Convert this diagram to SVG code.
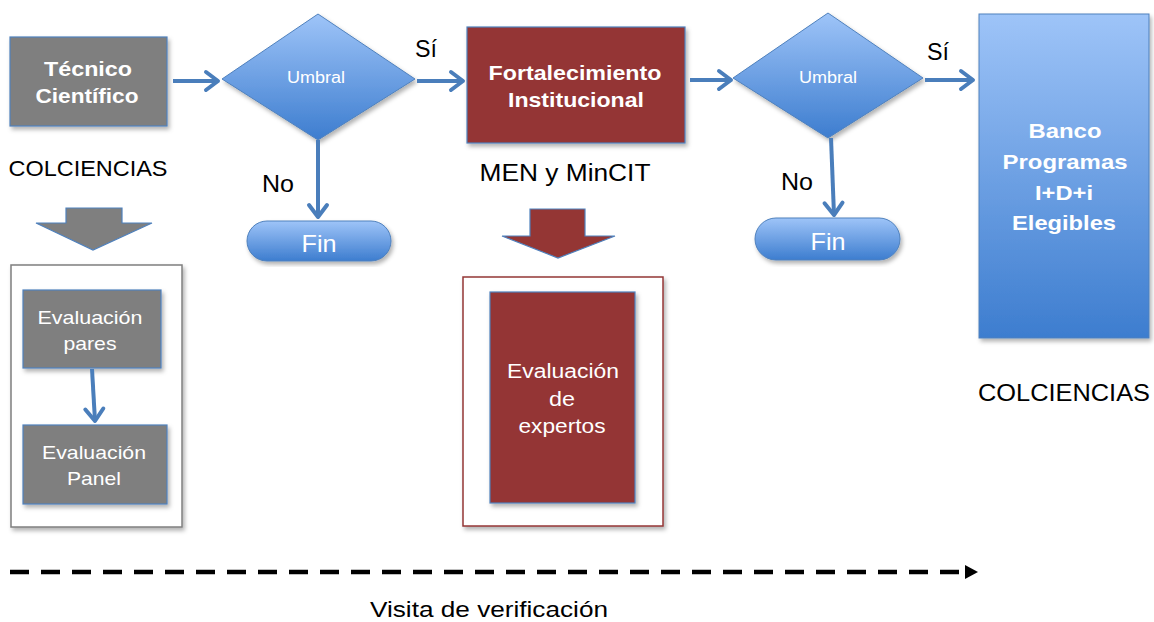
<svg xmlns="http://www.w3.org/2000/svg" width="1154" height="622" viewBox="0 0 1154 622">
<defs>
<style>
text{font-family:"Liberation Sans",Arial,sans-serif;text-anchor:middle}
.w{fill:#ffffff}
.b{font-weight:bold}
.k{fill:#000000}
.gray{fill:#7f7f7f;stroke:#4f81bd;stroke-width:1.2}
.red{fill:#943634;stroke:#4f81bd;stroke-width:1.2}
.blue{fill:url(#bg);stroke:#4f81bd;stroke-width:1}
.conn{stroke:#4a7ebb;stroke-width:4;fill:none;marker-end:url(#ah)}
</style>
<linearGradient id="bg" x1="0" y1="0" x2="0" y2="1">
<stop offset="0" stop-color="#9ec4f8"/>
<stop offset="1" stop-color="#3d7dcf"/>
</linearGradient>
<marker id="ah" viewBox="-16 -12 20 24" refX="0" refY="0" markerWidth="20" markerHeight="24" markerUnits="userSpaceOnUse" orient="auto">
<path d="M-12,-9 L0,0 L-12,9" fill="none" stroke="#4a7ebb" stroke-width="4" stroke-linecap="round" stroke-linejoin="round"/>
</marker>
<filter id="sh" x="-10%" y="-10%" width="125%" height="125%">
<feDropShadow dx="2" dy="3" stdDeviation="2" flood-color="#000" flood-opacity="0.3"/>
</filter>
</defs>
<rect width="1154" height="622" fill="#ffffff"/>

<g id="tecnico">
<rect class="gray" x="10" y="37" width="157" height="89" filter="url(#sh)"/>
<text class="w b" x="88" y="76" font-size="21" textLength="88" lengthAdjust="spacingAndGlyphs">Técnico</text>
<text class="w b" x="87" y="103" font-size="21" textLength="103" lengthAdjust="spacingAndGlyphs">Científico</text>
</g>
<g id="colciencias1"><text class="k" x="88" y="176" font-size="22" textLength="159" lengthAdjust="spacingAndGlyphs">COLCIENCIAS</text></g>
<g id="grayArrow">
<polygon class="gray" points="66,208 122,208 122,223 152,223 93,250 36,223 66,223"/>
</g>
<g id="grayContainer">
<rect x="11" y="265" width="171" height="262" fill="#fff" stroke="#7f7f7f" stroke-width="1.5" filter="url(#sh)"/>
</g>
<g id="evalPares">
<rect class="gray" x="23" y="290" width="138" height="78" filter="url(#sh)"/>
<text class="w" x="90" y="324" font-size="19" textLength="105" lengthAdjust="spacingAndGlyphs">Evaluación</text>
<text class="w" x="90" y="350" font-size="19" textLength="53" lengthAdjust="spacingAndGlyphs">pares</text>
</g>
<g id="evalPanel">
<rect class="gray" x="23" y="425" width="144" height="79" filter="url(#sh)"/>
<text class="w" x="94" y="459" font-size="19" textLength="104" lengthAdjust="spacingAndGlyphs">Evaluación</text>
<text class="w" x="94" y="485" font-size="19" textLength="54" lengthAdjust="spacingAndGlyphs">Panel</text>
</g>

<g id="umbral1">
<polygon class="blue" points="318,14 415,79 318,140 222,79" filter="url(#sh)"/>
<text class="w" x="316" y="83" font-size="16" textLength="58" lengthAdjust="spacingAndGlyphs">Umbral</text>
</g>
<g id="no1"><text class="k" x="278" y="192" font-size="24" textLength="32" lengthAdjust="spacingAndGlyphs">No</text></g>
<g id="fin1">
<rect class="blue" x="247" y="221" width="144" height="40" rx="20" filter="url(#sh)"/>
<text class="w" x="319" y="252" font-size="24" textLength="35" lengthAdjust="spacingAndGlyphs">Fin</text>
</g>
<g id="si1"><text class="k" x="426" y="57" font-size="23" textLength="22" lengthAdjust="spacingAndGlyphs">Sí</text></g>

<g id="fortalecimiento">
<rect class="red" x="467" y="27" width="218" height="116" filter="url(#sh)"/>
<text class="w b" x="575" y="80" font-size="21" textLength="173" lengthAdjust="spacingAndGlyphs">Fortalecimiento</text>
<text class="w b" x="576" y="107" font-size="21" textLength="136" lengthAdjust="spacingAndGlyphs">Institucional</text>
</g>
<g id="men"><text class="k" x="565" y="181" font-size="23" textLength="171" lengthAdjust="spacingAndGlyphs">MEN y MinCIT</text></g>
<g id="redArrow">
<polygon class="red" points="530,209 585,209 585,236 615,236 558,258 502,236 530,236"/>
</g>
<g id="redContainer">
<rect x="463" y="277" width="200" height="249" fill="#fff" stroke="#943634" stroke-width="1.5" filter="url(#sh)"/>
</g>
<g id="evalExpertos">
<rect class="red" x="490" y="292" width="145" height="211" filter="url(#sh)"/>
<text class="w" x="563" y="378" font-size="20" textLength="112" lengthAdjust="spacingAndGlyphs">Evaluación</text>
<text class="w" x="562" y="406" font-size="20" textLength="26" lengthAdjust="spacingAndGlyphs">de</text>
<text class="w" x="562" y="433" font-size="20" textLength="87" lengthAdjust="spacingAndGlyphs">expertos</text>
</g>

<g id="umbral2">
<polygon class="blue" points="828,13 923,78 828,138 733,78" filter="url(#sh)"/>
<text class="w" x="828" y="83" font-size="16" textLength="58" lengthAdjust="spacingAndGlyphs">Umbral</text>
</g>
<g id="no2"><text class="k" x="797" y="190" font-size="24" textLength="32" lengthAdjust="spacingAndGlyphs">No</text></g>
<g id="fin2">
<rect class="blue" x="755" y="218" width="145" height="42" rx="21" filter="url(#sh)"/>
<text class="w" x="828" y="250" font-size="24" textLength="35" lengthAdjust="spacingAndGlyphs">Fin</text>
</g>
<g id="si2"><text class="k" x="938" y="60" font-size="23" textLength="22" lengthAdjust="spacingAndGlyphs">Sí</text></g>

<g id="banco">
<rect class="blue" x="979" y="14" width="170" height="324" filter="url(#sh)"/>
<text class="w b" x="1065" y="138" font-size="21" textLength="73" lengthAdjust="spacingAndGlyphs">Banco</text>
<text class="w b" x="1065" y="169" font-size="21" textLength="125" lengthAdjust="spacingAndGlyphs">Programas</text>
<text class="w b" x="1064" y="200" font-size="21" textLength="58" lengthAdjust="spacingAndGlyphs">I+D+i</text>
<text class="w b" x="1064" y="230" font-size="21" textLength="104" lengthAdjust="spacingAndGlyphs">Elegibles</text>
</g>
<g id="colciencias2"><text class="k" x="1064" y="401" font-size="23" textLength="172" lengthAdjust="spacingAndGlyphs">COLCIENCIAS</text></g>

<g id="visita"><text class="k" x="489" y="617" font-size="22" textLength="238" lengthAdjust="spacingAndGlyphs">Visita de verificación</text></g>

<g id="connectors">
<line class="conn" x1="173" y1="81" x2="218" y2="81"/>
<line class="conn" x1="318" y1="140" x2="318" y2="217"/>
<line class="conn" x1="417" y1="81" x2="463" y2="81"/>
<line class="conn" x1="690" y1="80" x2="731" y2="80"/>
<line class="conn" x1="831" y1="138" x2="834" y2="215"/>
<line class="conn" x1="925" y1="80" x2="973" y2="80"/>
<line class="conn" x1="92" y1="369" x2="95" y2="421"/>
<line x1="10" y1="572" x2="966" y2="572" stroke="#000" stroke-width="4.5" stroke-dasharray="19 12"/>
<polygon points="965,565 978,572 965,579" fill="#000"/>
</g>
</svg>
